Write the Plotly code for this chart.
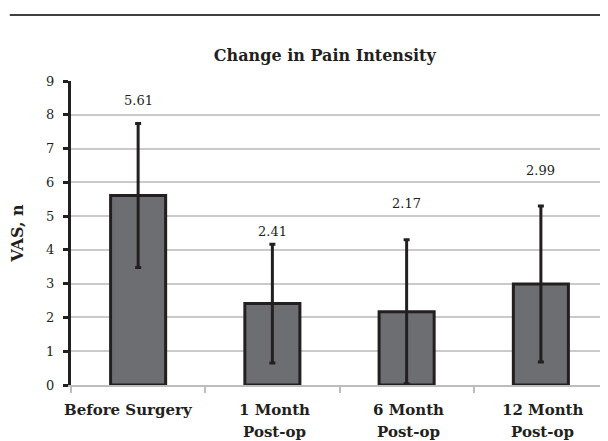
import plotly.graph_objects as go

categories = ["Before Surgery", "1 Month Post-op", "6 Month Post-op", "12 Month Post-op"]
label_line1 = ["Before Surgery", "1 Month", "6 Month", "12 Month"]
label_line2 = ["", "Post-op", "Post-op", "Post-op"]
values = [5.61, 2.41, 2.17, 2.99]
errors = [2.13, 1.76, 2.13, 2.31]
value_labels = ["5.61", "2.41", "2.17", "2.99"]
label_y = [8.43, 4.53, 5.38, 6.36]
y_ticks = [0, 1, 2, 3, 4, 5, 6, 7, 8, 9]

dark = "#231f20"
serif = "DejaVu Serif"

fig = go.Figure()
fig.add_trace(go.Bar(
    x=categories, y=values, width=0.41,
    marker=dict(color="#6d6e71", line=dict(color=dark, width=3)),
    error_y=dict(type="data", array=errors, visible=True,
                 color=dark, thickness=3, width=3),
    hoverinfo="skip",
))

for c, t, yy in zip(categories, value_labels, label_y):
    fig.add_annotation(x=c, y=yy, text=t, showarrow=False,
                       font=dict(family=serif, size=13, color=dark))

# category labels (two lines, real text)
for i, (c, l1, l2) in enumerate(zip(categories, label_line1, label_line2)):
    shift = -10 if i == 0 else 2
    fig.add_annotation(x=c, xref="x", yref="paper", y=-0.0822, yanchor="middle",
                       text="<b>" + l1 + "</b>", showarrow=False, xshift=shift,
                       font=dict(family=serif, size=15, color=dark))
    if l2:
        fig.add_annotation(x=c, xref="x", yref="paper", y=-0.1546, yanchor="middle",
                           text="<b>" + l2 + "</b>", showarrow=False, xshift=shift,
                           font=dict(family=serif, size=15, color=dark))

fig.add_shape(type="line", xref="paper", yref="paper",
              x0=-0.114, x1=1.0, y0=1.217, y1=1.217,
              line=dict(color="black", width=1.5))

fig.update_layout(
    width=600, height=433,
    margin=dict(l=63, r=0, t=73, b=56, autoexpand=False),
    paper_bgcolor="white", plot_bgcolor="white",
    showlegend=False,
    title=dict(text="<b>Change in Pain Intensity</b>", x=0.528, xanchor="center",
               y=0.8915, yanchor="middle",
               font=dict(family=serif, size=16, color=dark)),
    xaxis=dict(
        range=[-0.5, len(categories) - 0.5],
        showline=True, linecolor="#bdbdbd", linewidth=1.5,
        ticks="outside", tickson="boundaries", ticklen=6, tickcolor="#bdbdbd",
        tickwidth=1.5, showticklabels=False, automargin=False,
        showgrid=False, fixedrange=True,
    ),
    yaxis=dict(
        range=[0, 9], tickvals=y_ticks, showline=True, linecolor=dark, linewidth=3,
        ticks="outside", ticklen=5, tickwidth=3, tickcolor=dark,
        showgrid=True, gridcolor="#cacaca", gridwidth=1.5, zeroline=False,
        tickfont=dict(family=serif, size=13, color=dark),
        ticklabelstandoff=6, automargin=False,
        title=dict(text="<b>VAS, n</b>", font=dict(family=serif, size=16, color=dark),
                   standoff=20),
        fixedrange=True,
    ),
)

fig.write_html("out.html")
